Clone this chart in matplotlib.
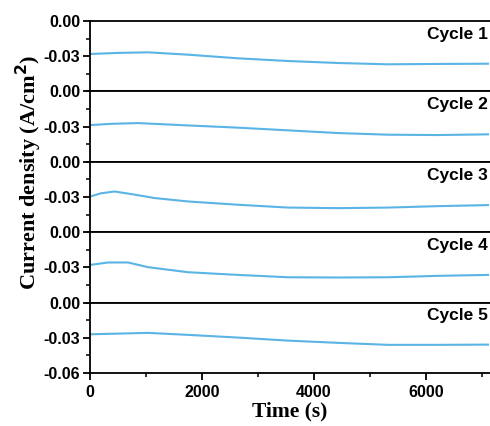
import matplotlib
matplotlib.use('Agg')
import matplotlib.pyplot as plt
from matplotlib.ticker import MultipleLocator

# values (time in s, current density in A/cm2)
t1 = [0, 500, 1036, 1750, 2643, 3536, 4429, 5321, 6214, 7107]
j1 = [-0.0281, -0.0272, -0.0267, -0.0287, -0.0318, -0.0341, -0.0358, -0.0369, -0.0366, -0.0364]

t2 = [0, 400, 857, 1750, 2643, 3536, 4429, 5321, 6214, 7107]
j2 = [-0.0287, -0.0276, -0.0270, -0.0290, -0.0309, -0.0332, -0.0355, -0.0369, -0.0372, -0.0366]

t3 = [0, 200, 440, 800, 1155, 1750, 2643, 3536, 4429, 5321, 6214, 7107]
j3 = [-0.0296, -0.0268, -0.0253, -0.0280, -0.0309, -0.0338, -0.0366, -0.0390, -0.0395, -0.0390, -0.0378, -0.0369]

t4 = [0, 321, 679, 1036, 1750, 2643, 3536, 4429, 5321, 6214, 7107]
j4 = [-0.0279, -0.0258, -0.0258, -0.0298, -0.0341, -0.0364, -0.0384, -0.0386, -0.0384, -0.0372, -0.0364]

t5 = [0, 1036, 1750, 2643, 3536, 4429, 5321, 6214, 7107]
j5 = [-0.0270, -0.0258, -0.0275, -0.0298, -0.0324, -0.0343, -0.0360, -0.0360, -0.0358]

cycles = ['Cycle 1', 'Cycle 2', 'Cycle 3', 'Cycle 4', 'Cycle 5']
times = [t1, t2, t3, t4, t5]
currents = [j1, j2, j3, j4, j5]

fig, axes = plt.subplots(5, 1, sharex=True, figsize=(4.9, 4.26), dpi=100)
fig.subplots_adjust(left=0.1837, right=1.0, bottom=0.1244, top=0.9507, hspace=0)

for i, ax in enumerate(axes):
    ax.plot(times[i], currents[i], color='#5ab4e6', lw=1.5)
    ax.set_xlim(0, 7143)
    ax.set_ylim(-0.06, 0.0)
    if i == 4:
        ticks = [0.0, -0.03, -0.06]
        labels = ['0.00', '-0.03', '-0.06']
    else:
        ticks = [0.0, -0.03]
        labels = ['0.00', '-0.03']
    ax.set_yticks(ticks)
    ax.set_yticklabels(labels, fontfamily='Liberation Sans', fontweight='bold', fontsize=11.5)
    ax.yaxis.set_minor_locator(MultipleLocator(0.015))
    ax.tick_params(axis='y', which='major', direction='out', length=5, width=1.3, pad=2)
    ax.tick_params(axis='y', which='minor', direction='out', length=3, width=1.1)
    ax.spines['right'].set_visible(False)
    for s in ['top', 'bottom', 'left']:
        ax.spines[s].set_linewidth(1.3)
    if i < 4:
        ax.tick_params(axis='x', which='both', bottom=False, labelbottom=False)
    ax.text(0.995, 0.81, cycles[i], transform=ax.transAxes, ha='right', va='center',
            fontfamily='Liberation Sans', fontweight='bold', fontsize=12.5)

ax = axes[-1]
ax.set_xticks([0, 2000, 4000, 6000])
ax.set_xticklabels(['0', '2000', '4000', '6000'], fontfamily='Liberation Sans',
                   fontweight='bold', fontsize=11.5)
ax.xaxis.set_minor_locator(MultipleLocator(1000))
ax.tick_params(axis='x', which='major', direction='out', length=5, width=1.3)
ax.tick_params(axis='x', which='minor', direction='out', length=3, width=1.1)
ax.set_xlabel('Time (s)', fontfamily='Liberation Serif', fontweight='bold', fontsize=15.5, labelpad=1)

fig.text(0.058, 0.596, 'Current density (A/cm$^\\mathbf{2}$)', rotation=90, ha='center', va='center',
         fontfamily='Liberation Serif', fontweight='bold', fontsize=16)

fig.savefig('out.png', dpi=100)
